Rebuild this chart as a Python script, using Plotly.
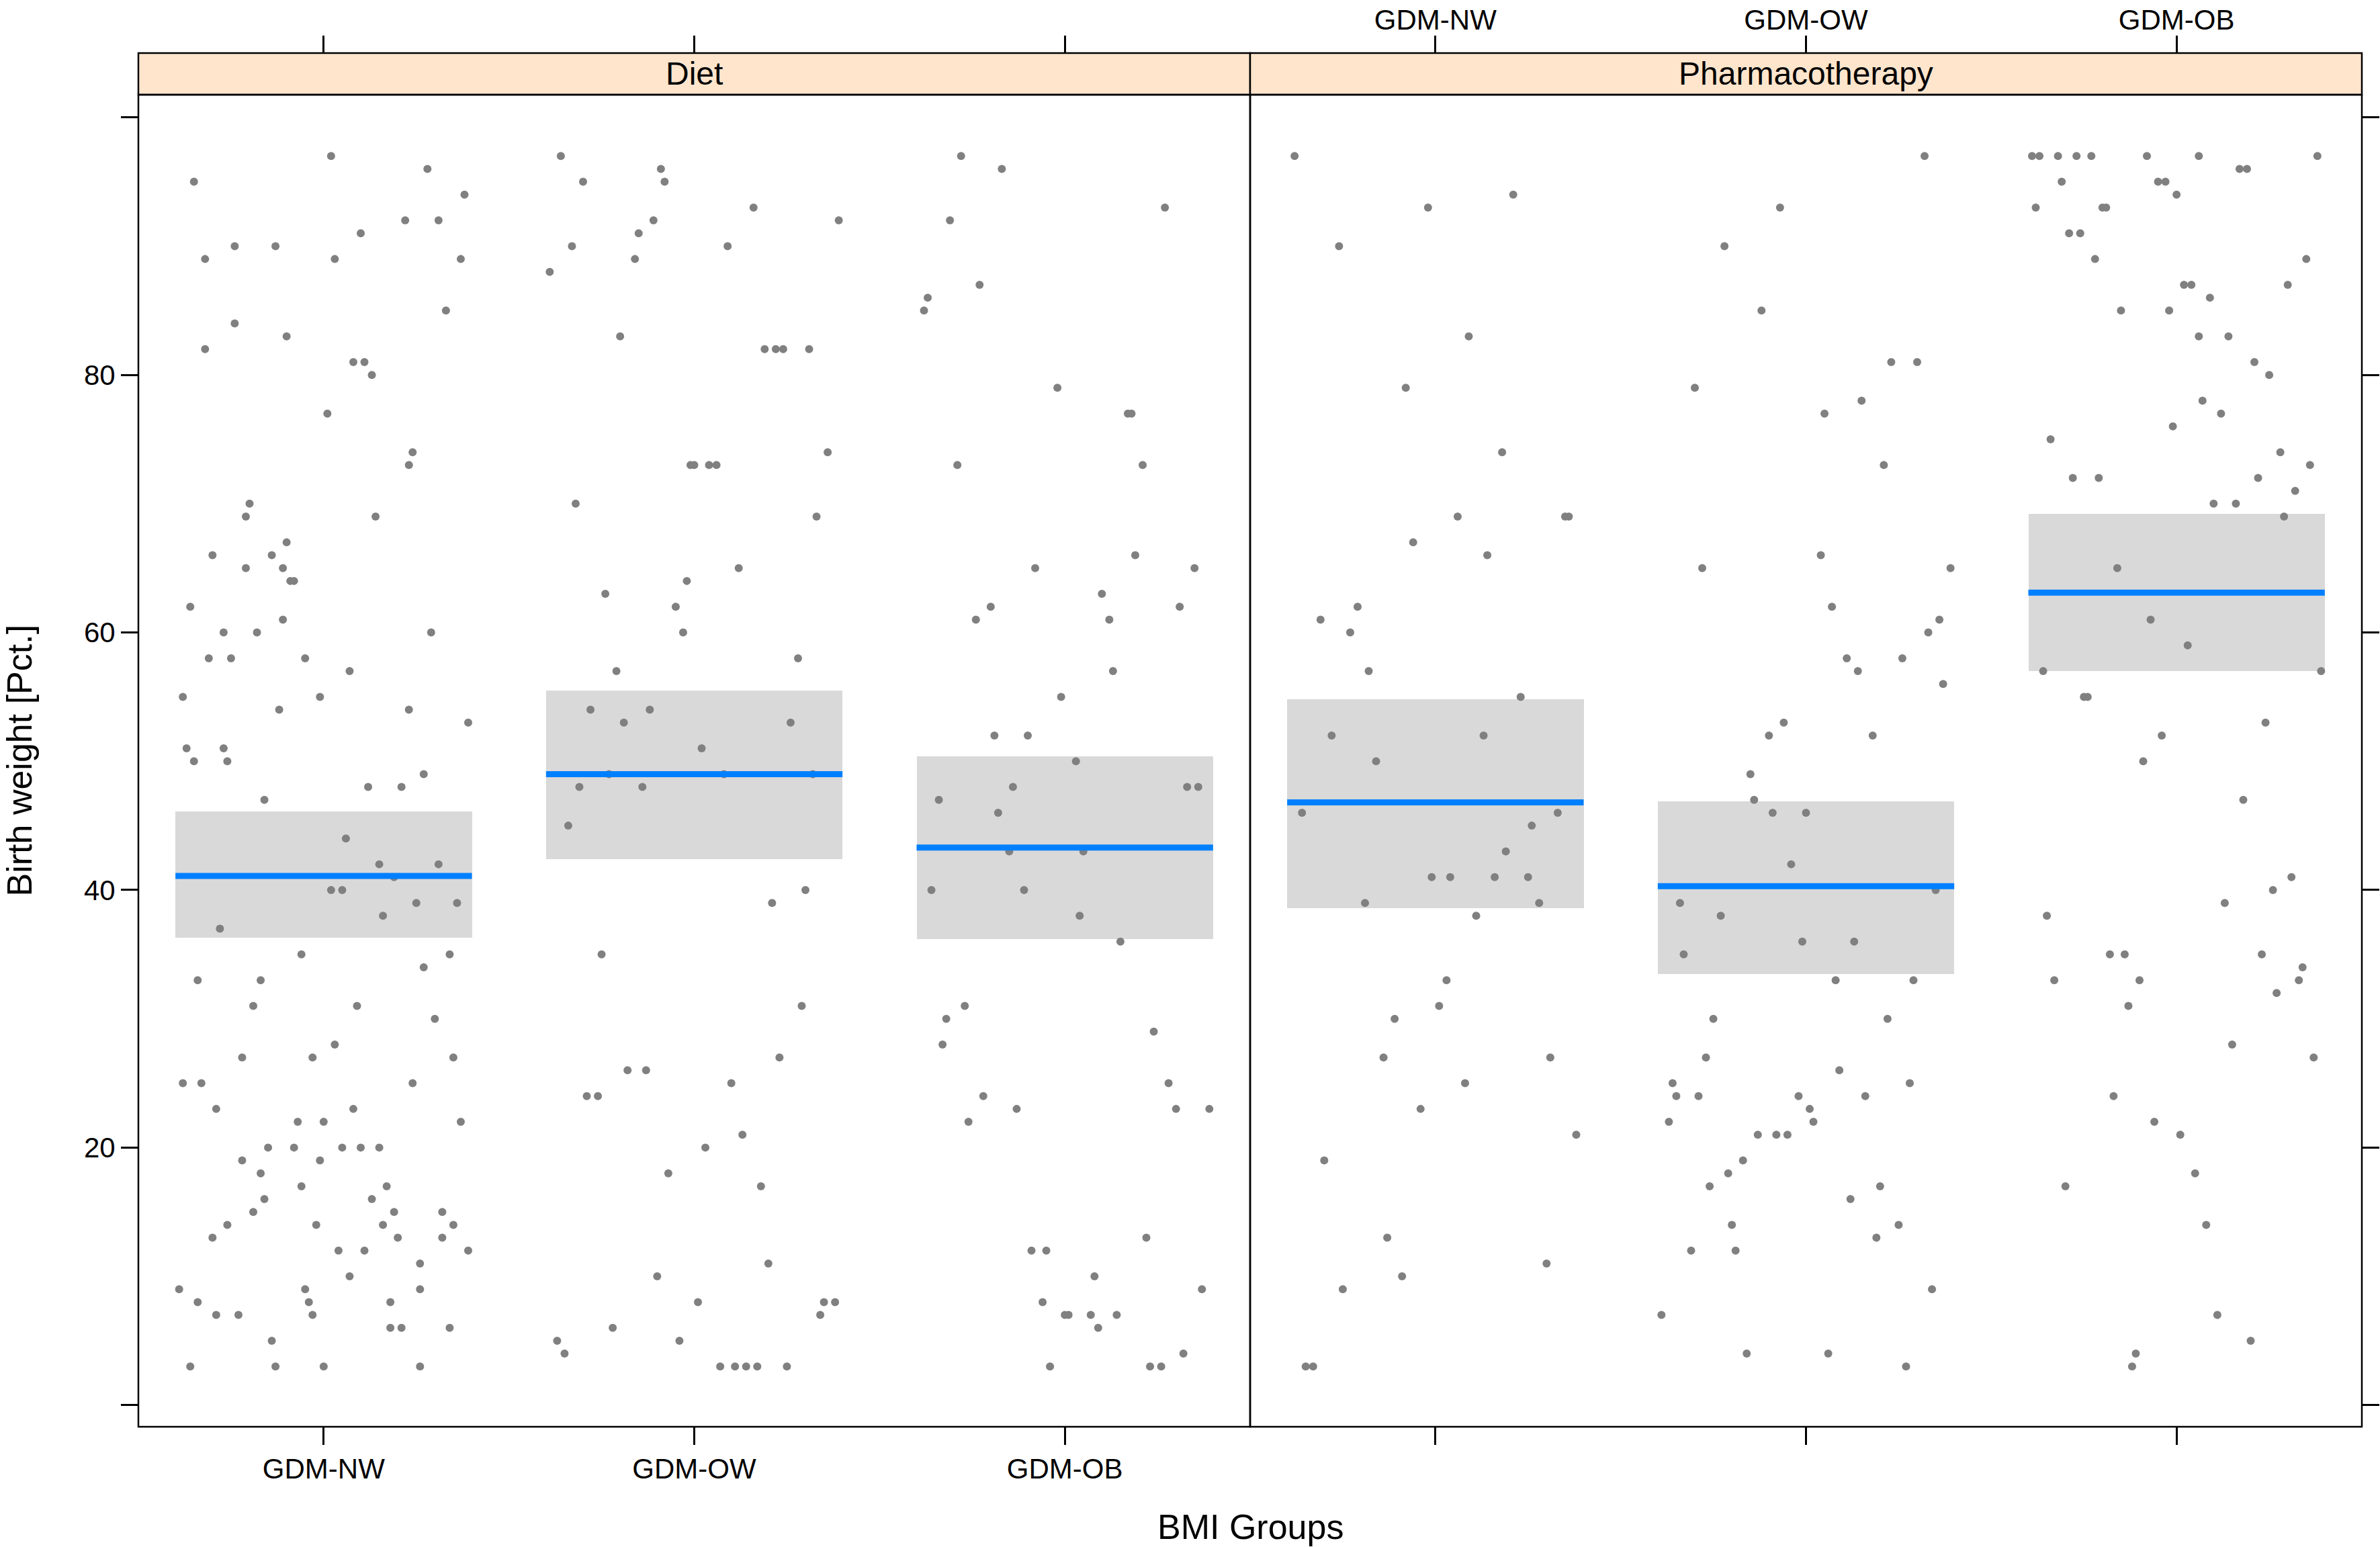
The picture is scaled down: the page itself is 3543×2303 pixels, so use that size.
import plotly.graph_objects as go

groups = ["GDM-NW", "GDM-OW", "GDM-OB"]
panels = ["Diet", "Pharmacotherapy"]

# birth weight percentiles per group, with the horizontal jitter
diet_nw_pct = [97, 96, 95, 94, 92, 92, 91, 90, 90, 89, 89, 89,
               85, 84, 83, 82, 81, 81, 80, 77, 74, 73, 70, 69, 69,
               67, 66, 66, 65, 65, 64, 64, 62, 61, 60, 60, 60, 58, 58, 58,
               57, 55, 55, 54, 54, 53, 51, 51, 50, 50, 49, 48, 48, 47,
               44, 42, 42, 41, 40, 40, 39, 39, 38, 37, 35, 35, 34, 33, 33,
               31, 31, 30, 28, 27, 27, 27, 25, 25, 25, 23, 23, 22, 22, 22,
               20, 20, 20, 20, 20, 19, 19, 18, 17, 17, 16, 16, 15, 15, 15,
               14, 14, 14, 14, 13, 13, 13, 12, 12, 12, 11, 10, 9, 9, 9,
               8, 8, 8, 7, 7, 7, 6, 6, 6, 5, 3, 3, 3, 3]
diet_nw_jit = [0.02, 0.28, -0.35, 0.38, 0.22, 0.31, 0.10, -0.24, -0.13, -0.32, 0.03, 0.37,
               0.33, -0.24, -0.10, -0.32, 0.08, 0.11, 0.13, 0.01, 0.24, 0.23, -0.20, -0.21, 0.14,
               -0.10, -0.30, -0.14, -0.21, -0.11, -0.09, -0.08, -0.36, -0.11, -0.27, -0.18, 0.29, -0.31, -0.25, -0.05,
               0.07, -0.38, -0.01, -0.12, 0.23, 0.39, -0.37, -0.27, -0.35, -0.26, 0.27, 0.12, 0.21, -0.16,
               0.06, 0.15, 0.31, 0.19, 0.02, 0.05, 0.25, 0.36, 0.16, -0.28, -0.06, 0.34, 0.27, -0.34, -0.17,
               -0.19, 0.09, 0.30, 0.03, -0.22, -0.03, 0.35, -0.38, -0.33, 0.24, -0.29, 0.08, -0.07, 0.00, 0.37,
               -0.15, -0.08, 0.05, 0.10, 0.15, -0.22, -0.01, -0.17, -0.06, 0.17, -0.16, 0.13, -0.19, 0.19, 0.32,
               -0.26, -0.02, 0.16, 0.35, -0.30, 0.20, 0.32, 0.04, 0.11, 0.39, 0.26, 0.07, -0.39, -0.05, 0.26,
               -0.34, -0.04, 0.18, -0.29, -0.23, -0.03, 0.18, 0.21, 0.34, -0.14, -0.36, -0.13, 0.00, 0.26]

diet_ow_pct = [97, 96, 95, 95, 93, 92, 92, 91, 90, 90, 89, 88, 83, 82, 82,
               82, 82, 74, 73, 73, 73, 73, 70, 69, 65, 64, 63, 62, 60, 58,
               57, 54, 54, 53, 53, 51, 49, 49, 49, 48, 48, 45, 40, 39, 35,
               31, 27, 26, 26, 25, 24, 24, 21, 20, 18, 17, 11, 10, 8, 8,
               8, 7, 6, 5, 5, 4, 3, 3, 3, 3, 3]
diet_ow_jit = [-0.36, -0.09, -0.30, -0.08, 0.16, -0.11, 0.39, -0.15, -0.33, 0.09, -0.16, -0.39, -0.20, 0.19, 0.22,
               0.24, 0.31, 0.36, -0.01, 0.00, 0.04, 0.06, -0.32, 0.33, 0.12, -0.02, -0.24, -0.05, -0.03, 0.28,
               -0.21, -0.28, -0.12, -0.19, 0.26, 0.02, -0.23, 0.08, 0.32, -0.31, -0.14, -0.34, 0.30, 0.21, -0.25,
               0.29, 0.23, -0.18, -0.13, 0.10, -0.29, -0.26, 0.13, 0.03, -0.07, 0.18, 0.20, -0.10, 0.01, 0.35,
               0.38, 0.34, -0.22, -0.37, -0.04, -0.35, 0.07, 0.11, 0.14, 0.17, 0.25]

diet_ob_pct = [97, 96, 93, 92, 87, 86, 85, 79, 77, 77, 73, 73, 66, 65, 65,
               63, 62, 62, 61, 61, 57, 55, 52, 52, 50, 48, 48, 48, 47, 46,
               43, 43, 40, 40, 38, 36, 31, 30, 29, 28, 25, 24, 23, 23, 23,
               22, 13, 12, 12, 10, 9, 8, 7, 7, 7, 7, 6, 4, 3, 3, 3]
diet_ob_jit = [-0.28, -0.17, 0.27, -0.31, -0.23, -0.37, -0.38, -0.02, 0.17, 0.18, -0.29, 0.21, 0.19, -0.08, 0.35,
               0.10, -0.20, 0.31, -0.24, 0.12, 0.13, -0.01, -0.19, -0.10, 0.03, -0.14, 0.33, 0.36, -0.34, -0.18,
               -0.15, 0.05, -0.36, -0.11, 0.04, 0.15, -0.27, -0.32, 0.24, -0.33, 0.28, -0.22, -0.13, 0.30, 0.39,
               -0.26, 0.22, -0.09, -0.05, 0.08, 0.37, -0.06, 0.00, 0.01, 0.07, 0.14, 0.09, 0.32, -0.04, 0.23, 0.26]

pharma_nw_pct = [97, 94, 93, 90, 83, 79, 74, 69, 69, 69, 67, 66, 62, 61, 60,
                 57, 55, 52, 52, 50, 46, 46, 45, 43, 41, 41, 41, 41, 39, 39,
                 38, 33, 31, 30, 27, 27, 25, 23, 21, 19, 13, 11, 10, 9, 3, 3]
pharma_nw_jit = [-0.38, 0.21, -0.02, -0.26, 0.09, -0.08, 0.18, 0.06, 0.35, 0.36, -0.06, 0.14, -0.21, -0.31, -0.23,
                 -0.18, 0.23, -0.28, 0.13, -0.16, -0.36, 0.33, 0.26, 0.19, -0.01, 0.04, 0.16, 0.25, -0.19, 0.28,
                 0.11, 0.03, 0.01, -0.11, -0.14, 0.31, 0.08, -0.04, 0.38, -0.30, -0.13, 0.30, -0.09, -0.25, -0.35, -0.33]

pharma_ow_pct = [97, 93, 90, 85, 81, 81, 79, 78, 77, 73, 66, 65, 65, 62, 61,
                 60, 58, 58, 57, 56, 53, 52, 52, 49, 47, 46, 46, 42, 40, 39,
                 38, 36, 36, 35, 33, 33, 30, 30, 27, 26, 25, 25, 24, 24, 24,
                 24, 23, 22, 22, 21, 21, 21, 19, 18, 17, 17, 16, 14, 14, 13,
                 12, 12, 9, 7, 4, 4, 3]
pharma_ow_jit = [0.32, -0.07, -0.22, -0.12, 0.23, 0.30, -0.30, 0.15, 0.05, 0.21, 0.04, -0.28, 0.39, 0.07, 0.36,
                 0.33, 0.11, 0.26, 0.14, 0.37, -0.06, -0.10, 0.18, -0.15, -0.14, -0.09, 0.00, -0.04, 0.35, -0.34,
                 -0.23, -0.01, 0.13, -0.33, 0.08, 0.29, -0.25, 0.22, -0.27, 0.09, -0.36, 0.28, -0.35, -0.29, -0.02,
                 0.16, 0.01, -0.37, 0.02, -0.13, -0.08, -0.05, -0.17, -0.21, -0.26, 0.20, 0.12, -0.20, 0.25, 0.19,
                 -0.31, -0.19, 0.34, -0.39, -0.16, 0.06, 0.27]

pharma_ob_pct = [97, 97, 97, 97, 97, 97, 97, 97, 96, 96, 95, 95, 95, 94, 93, 93, 93,
                 91, 91, 89, 89, 87, 87, 87, 86, 85, 85, 83, 83, 81, 80, 78, 77, 76, 75, 74, 73,
                 72, 72, 72, 71, 70, 70, 69, 65, 61, 59, 57, 57, 55, 55, 53, 52, 50, 47,
                 41, 40, 39, 38, 35, 35, 35, 34, 33, 33, 33, 32, 31, 28, 27,
                 24, 22, 21, 18, 17, 14, 7, 5, 4, 3]
pharma_ob_jit = [-0.39, -0.37, -0.32, -0.27, -0.23, -0.08, 0.06, 0.38, 0.17, 0.19, -0.31, -0.05, -0.03, 0.00, -0.38, -0.20, -0.19,
                 -0.29, -0.26, -0.22, 0.35, 0.02, 0.04, 0.30, 0.09, -0.15, -0.02, 0.06, 0.14, 0.21, 0.25, 0.07, 0.12, -0.01, -0.34, 0.28, 0.36,
                 -0.28, -0.21, 0.22, 0.32, 0.10, 0.16, 0.29, -0.16, -0.07, 0.03, -0.36, 0.39, -0.25, -0.24, 0.24, -0.04, -0.09, 0.18,
                 0.31, 0.26, 0.13, -0.35, -0.18, -0.14, 0.23, 0.34, -0.33, -0.10, 0.33, 0.27, -0.13, 0.15, 0.37,
                 -0.17, -0.06, 0.01, 0.05, -0.30, 0.08, 0.11, 0.20, -0.11, -0.12]

# estimated mean and confidence band per group
diet_mean = [41.1, 49.0, 43.3]
diet_lo = [36.3, 42.4, 36.2]
diet_hi = [46.1, 55.5, 50.4]
pharma_mean = [46.8, 40.3, 63.1]
pharma_lo = [38.6, 33.5, 57.0]
pharma_hi = [54.8, 46.9, 69.2]

yticks = [0, 20, 40, 60, 80, 100]
yticklabels = ["", "20", "40", "60", "80", ""]

FONT = "Liberation Sans"
strip_frac = 62 / 2045
ytop = 1 - strip_frac
pos = [1, 2, 3]

fig = go.Figure()


def add_panel(xa, ya, pcts, jits, mean, lo, hi):
    fig.add_trace(go.Bar(x=pos, base=lo, y=[h - l for h, l in zip(hi, lo)], width=0.8,
                         marker=dict(color="#D9D9D9", line_width=0),
                         xaxis=xa, yaxis=ya, showlegend=False, hoverinfo="skip"))
    xs, ys = [], []
    for p, pc, jt in zip(pos, pcts, jits):
        xs += [p + j for j in jt]
        ys += pc
    fig.add_trace(go.Scatter(x=xs, y=ys, mode="markers",
                             marker=dict(size=12, color="#808080", line_width=0),
                             xaxis=xa, yaxis=ya, showlegend=False))
    lx, ly = [], []
    for p, m in zip(pos, mean):
        lx += [p - 0.4, p + 0.4, None]
        ly += [m, m, None]
    fig.add_trace(go.Scatter(x=lx, y=ly, mode="lines", line=dict(color="#0080FF", width=9),
                             xaxis=xa, yaxis=ya, showlegend=False, hoverinfo="skip"))


add_panel("x", "y", [diet_nw_pct, diet_ow_pct, diet_ob_pct],
          [diet_nw_jit, diet_ow_jit, diet_ob_jit], diet_mean, diet_lo, diet_hi)
add_panel("x2", "y2", [pharma_nw_pct, pharma_ow_pct, pharma_ob_pct],
          [pharma_nw_jit, pharma_ow_jit, pharma_ob_jit], pharma_mean, pharma_lo, pharma_hi)
# empty traces so the top axes get drawn
fig.add_trace(go.Scatter(x=[None], y=[None], xaxis="x3", yaxis="y", showlegend=False))
fig.add_trace(go.Scatter(x=[None], y=[None], xaxis="x4", yaxis="y2", showlegend=False))

tickfont = dict(family=FONT, size=42, color="black")
xcommon = dict(range=[0.5, 3.5], tickvals=pos, ticktext=groups, ticks="outside", ticklen=26,
               tickwidth=2.5, tickcolor="black", showgrid=False, zeroline=False,
               showline=False, tickfont=tickfont, fixedrange=True, automargin=False)
ycommon = dict(range=[-1.68, 101.76], tickvals=yticks, ticktext=yticklabels, ticks="outside",
               ticklen=25, tickwidth=2.5, tickcolor="black", showgrid=False, zeroline=False,
               showline=False, tickfont=tickfont, domain=[0, ytop], automargin=False)

fig.update_layout(
    width=3543, height=2303,
    margin=dict(l=206, r=27, t=79, b=179),
    plot_bgcolor="white", paper_bgcolor="white",
    barmode="overlay", bargap=0,
    font=dict(family=FONT, color="black"),
    xaxis=dict(xcommon, domain=[0, 0.5], anchor="y"),
    xaxis2=dict(xcommon, domain=[0.5, 1], anchor="y2", showticklabels=False),
    xaxis3=dict(xcommon, overlaying="x", side="top", anchor="free", position=1,
                showticklabels=False),
    xaxis4=dict(xcommon, overlaying="x2", side="top", anchor="free", position=1,
                ticklabelstandoff=-8),
    yaxis=dict(ycommon, anchor="x"),
    yaxis2=dict(ycommon, anchor="x2", side="right", showticklabels=False),
)

shapes = []
for i, name in enumerate(panels):
    x0, x1 = 0.5 * i, 0.5 * (i + 1)
    shapes.append(dict(type="rect", xref="paper", yref="paper", x0=x0, x1=x1, y0=ytop, y1=1,
                       fillcolor="#FFE5CC", line=dict(color="black", width=2.5), layer="above"))
    shapes.append(dict(type="rect", xref="paper", yref="paper", x0=x0, x1=x1, y0=0, y1=ytop,
                       line=dict(color="black", width=2.5), layer="above"))
    fig.add_annotation(x=(x0 + x1) / 2, y=(ytop + 1) / 2, xref="paper", yref="paper",
                       text=name, showarrow=False, font=dict(family=FONT, size=48, color="black"),
                       xanchor="center", yanchor="middle")
fig.update_layout(shapes=shapes)

fig.add_annotation(x=0.5, y=-0.073, xref="paper", yref="paper", text="BMI Groups",
                   showarrow=False, font=dict(family=FONT, size=52, color="black"),
                   xanchor="center", yanchor="middle")
fig.add_annotation(x=-0.0535, y=0.4853, xref="paper", yref="paper", text="Birth weight [Pct.]",
                   showarrow=False, textangle=-90, font=dict(family=FONT, size=52, color="black"),
                   xanchor="center", yanchor="middle")

# drop the browser's default body margin so the figure sits at the page origin
fig.write_html("out.html", config={"displayModeBar": False},
               post_script="document.body.style.margin='0px';")
